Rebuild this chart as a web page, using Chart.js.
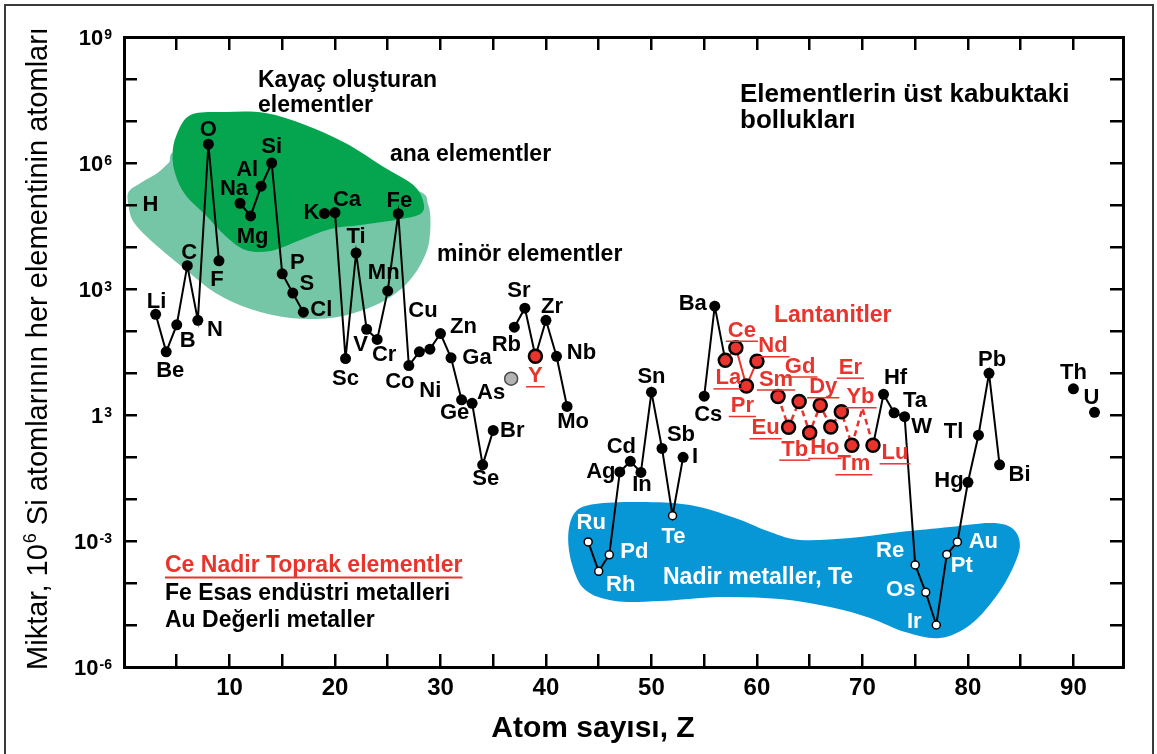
<!DOCTYPE html>
<html lang="tr">
<head>
<meta charset="utf-8">
<title>Elementlerin üst kabuktaki bollukları</title>
<script src="https://cdn.jsdelivr.net/npm/chart.js@4.4.1/dist/chart.umd.min.js"></script>
<style>
html,body{margin:0;padding:0;background:#fff;overflow:hidden;}
canvas{display:block;}
</style>
</head>
<body>
<canvas id="chart" width="1157" height="754"></canvas>
<script>
// ---------------- data ----------------
const atomicNumber = [3,4,5,6,7,8,9,10,11,12,13,14,15,16,17,18,19,20,21,22,23,24,25,26,27,28,29,30,31,32,33,34,35,36,37,38,39,40,41,42,43,44,45,46,47,48,49,50,51,52,53,54,55,56,57,58,59,60,61,62,63,64,65,66,67,68,69,70,71,72,73,74,75,76,77,78,79,80,81,82,83,84,90,91,92];
const elementSymbol = ['Li','Be','B','C','N','O','F','Ne','Na','Mg','Al','Si','P','S','Cl','Ar','K','Ca','Sc','Ti','V','Cr','Mn','Fe','Co','Ni','Cu','Zn','Ga','Ge','As','Se','Br','Kr','Rb','Sr','Y','Zr','Nb','Mo','Tc','Ru','Rh','Pd','Ag','Cd','In','Sn','Sb','Te','I','Xe','Cs','Ba','La','Ce','Pr','Nd','Pm','Sm','Eu','Gd','Tb','Dy','Ho','Er','Tm','Yb','Lu','Hf','Ta','W','Re','Os','Ir','Pt','Au','Hg','Tl','Pb','Bi','Po','Th','Pa','U'];
const abundance = [250,32,140,3600,180,2.8e6,4700,null,1.1e5,5.5e4,2.8e5,1.0e6,2300,800,280,null,6.3e4,6.6e4,22,7200,110,63,900,6.2e4,15,32,37,87,23,2.3,1.9,0.065,0.43,null,123,350,25,180,25,1.6,null,9.5e-4,1.9e-4,4.7e-4,0.044,0.079,0.043,3.5,0.16,4.0e-3,0.098,null,2.8,390,20,40,4.9,19,null,2.75,0.51,2.1,0.38,1.7,0.52,1.2,0.19,1.45,0.19,3.1,1.13,0.91,2.7e-4,6.0e-5,1.0e-5,4.8e-4,9.5e-4,0.025,0.33,9.8,0.065,null,4.2,null,1.16];
const rareEarthSymbols = ['Y','La','Ce','Pr','Nd','Sm','Eu','Gd','Tb','Dy','Ho','Er','Tm','Yb','Lu'];
const preciousSymbols = ['Ru','Rh','Pd','Te','Re','Os','Ir','Pt','Au'];
const unmarkedSymbols = ['Yb'];
const grayPointZ = [36.7];
const grayPointAbundance = [7.3];
const xTickValues = [5,10,15,20,25,30,35,40,45,50,55,60,65,70,75,80,85,90];
const xTickLabels = ['','10','','20','','30','','40','','50','','60','','70','','80','','90'];
const yTickValues = [1e9,1e6,1e3,1,1e-3,1e-6];
const yTickBase = ['10','10','10','1','10','10'];
const yTickExp = ['9','6','3','3','-3','-6'];
const yMinorTicks = [1e-6,1e-5,1e-4,1e-3,1e-2,1e-1,1,1e1,1e2,1e3,1e4,1e5,1e6,1e7,1e8,1e9];

// ---------------- layout / style (not data) ----------------
const FONT = '"Liberation Sans", Arial, Helvetica, sans-serif';
const RED = '#e8342c';
const labelOffset = {
  Li:[1,-12],Be:[4,19],B:[11,16],C:[2,-13],N:[17,10],O:[0,-14],F:[-2,19],Na:[-6,-14],Mg:[2,21],Al:[-14,-16],Si:[0,-16],
  P:[15,-11],S:[14,-9],Cl:[18,-2],K:[-13,0],Ca:[12,-13],Sc:[0,20],Ti:[0,-16],V:[-6,16],Cr:[7,16],Mn:[-4,-18],Fe:[1,-13],
  Co:[-9,16],Ni:[11,39],Cu:[-7,-38],Zn:[23,-7],Ga:[26,0],Ge:[-7,13],As:[19,-10],Se:[3,14],Br:[19,1],Rb:[-8,18],Sr:[-6,-17],
  Y:[0,20],Zr:[6,-13],Nb:[25,-3],Mo:[6,16],Ru:[3,-19],Rh:[22,14],Pd:[25,-3],Ag:[-19,0],Cd:[-9,-14],In:[1,13],Sn:[0,-15],
  Sb:[19,-13],Te:[1,21],I:[12,0],Cs:[4,19],Ba:[-22,-2],La:[3,18],Ce:[6,-17],Pr:[-4,20],Nd:[16,-15],Sm:[-2,-17],Eu:[-23,1],
  Gd:[1,-35],Tb:[-15,17],Dy:[3,-18],Ho:[-6,21],Er:[9,-44],Tm:[2,19],Yb:[-2,-11],Lu:[22,8],Hf:[12,-16],Ta:[21,-12],W:[17,10],
  Re:[-25,-14],Os:[-25,-2],Ir:[-22,-3],Pt:[15,12],Au:[26,0],Hg:[-19,-1],Tl:[-25,-3],Pb:[3,-13],Bi:[20,10],Th:[0,-16],U:[-3,-14]
};
// region outlines in data units [Z, log10(abundance)]
const majorRegion = [[4.98,6.667],[6.31,7.143],[9.62,7.214],[13.41,7.19],[17.2,6.905],[20.99,6.476],[24.78,5.881],[27.43,5.476],[28.38,5.071],[28.09,4.786],[25.72,4.643],[22.41,4.524],[19.57,4.429],[16.73,4.167],[13.89,3.905],[11.52,3.929],[9.62,4.262],[7.73,4.762],[5.83,5.238],[4.89,5.714],[4.6,6.19]];
const minorRegion = [[0.43,5.31],[1.57,5.524],[3.18,5.762],[4.22,6.0],[5.83,6.31],[16.73,6.071],[27.15,5.405],[28.85,5.0],[28.95,4.167],[28.09,3.571],[26.67,3.095],[24.78,2.738],[22.41,2.476],[19.57,2.31],[15.78,2.31],[11.99,2.524],[8.68,2.905],[5.65,3.5],[2.71,4.119],[0.91,4.595],[0.43,5.0]];
const rareMetalRegion = [[42.11,-2.857],[42.78,-2.31],[44.67,-2.119],[48.93,-2.071],[53.66,-2.143],[57.93,-2.452],[61.25,-2.786],[64.09,-2.976],[68.83,-2.929],[73.56,-2.786],[78.3,-2.667],[82.1,-2.571],[84.17,-2.69],[84.93,-3.095],[84.17,-3.69],[82.56,-4.357],[80.19,-5.0],[77.35,-5.31],[74.04,-5.167],[70.72,-4.833],[66.93,-4.571],[62.2,-4.381],[56.51,-4.333],[50.83,-4.429],[46.57,-4.429],[43.73,-4.167],[42.49,-3.571]];
const notes = [
  {t:'Kayaç oluşturan', x:258, y:87, s:23, c:'#000'},
  {t:'elementler', x:258, y:112, s:23, c:'#000'},
  {t:'ana elementler', x:390, y:161, s:23, c:'#000'},
  {t:'minör elementler', x:437, y:261, s:23, c:'#000'},
  {t:'Elementlerin üst kabuktaki', x:740, y:102, s:26, c:'#000'},
  {t:'bollukları', x:740, y:128, s:26, c:'#000'},
  {t:'Lantanitler', x:774, y:322, s:23, c:RED},
  {t:'Ce Nadir Toprak elementler', x:165, y:572, s:23, c:RED, u:true},
  {t:'Fe Esas endüstri metalleri', x:165, y:600, s:23, c:'#000'},
  {t:'Au Değerli metaller', x:165, y:627, s:23, c:'#000'},
  {t:'Nadir metaller, Te', x:663, y:584, s:23, c:'#fff'}
];

function groupOf(sym){
  if (unmarkedSymbols.includes(sym)) return 'hidden';
  if (rareEarthSymbols.includes(sym)) return 'ree';
  if (preciousSymbols.includes(sym)) return 'precious';
  return 'main';
}
const groups = elementSymbol.map(groupOf);
const pointRadius = groups.map(g => g==='hidden'?0 : g==='ree'?6.5 : g==='precious'?4 : 5.5);
const pointFill = groups.map(g => g==='ree'?RED : g==='precious'?'#fff' : '#000');
const pointBorder = groups.map(g => g==='hidden'?'rgba(0,0,0,0)':'#000');
const pointBorderW = groups.map(g => g==='ree'?2.5 : g==='precious'?1.5 : 0);

function segKind(c){
  const z0 = atomicNumber[c.p0DataIndex], z1 = atomicNumber[c.p1DataIndex];
  if (z0>=57 && z1<=60) return 'solidRed';
  if (z0>=62 && z1<=71) return 'dashRed';
  return 'black';
}

function smoothClosed(ctx, pts){
  const n = pts.length;
  ctx.beginPath();
  ctx.moveTo(pts[0][0], pts[0][1]);
  for (let i=0;i<n;i++){
    const p0=pts[(i-1+n)%n], p1=pts[i], p2=pts[(i+1)%n], p3=pts[(i+2)%n];
    ctx.bezierCurveTo(p1[0]+(p2[0]-p0[0])/6, p1[1]+(p2[1]-p0[1])/6,
                      p2[0]-(p3[0]-p1[0])/6, p2[1]-(p3[1]-p1[1])/6, p2[0], p2[1]);
  }
  ctx.closePath();
}
function regionPixels(chart, region){
  const xs = chart.scales.x, ys = chart.scales.y;
  return region.map(p => [xs.getPixelForValue(p[0]), ys.getPixelForValue(Math.pow(10,p[1]))]);
}

const decor = {
  id:'decor',
  beforeDraw(chart){
    const ctx = chart.ctx;
    ctx.save();
    ctx.fillStyle = '#fff';
    ctx.fillRect(0,0,chart.width,chart.height);
    ctx.fillStyle = '#74c6a7';
    smoothClosed(ctx, regionPixels(chart, minorRegion)); ctx.fill();
    ctx.fillStyle = '#05a550';
    smoothClosed(ctx, regionPixels(chart, majorRegion)); ctx.fill();
    ctx.fillStyle = '#0897d6';
    smoothClosed(ctx, regionPixels(chart, rareMetalRegion)); ctx.fill();
    ctx.textAlign='left'; ctx.textBaseline='alphabetic';
    notes.forEach(n => {
      ctx.font = 'bold '+n.s+'px '+FONT;
      ctx.fillStyle = n.c;
      ctx.fillText(n.t, n.x, n.y);
      if (n.u){
        const w = ctx.measureText(n.t).width;
        ctx.strokeStyle = n.c; ctx.lineWidth = 1.8;
        ctx.beginPath(); ctx.moveTo(n.x, n.y+5.5); ctx.lineTo(n.x+w, n.y+5.5); ctx.stroke();
      }
    });
    ctx.restore();
  },
  afterDatasetsDraw(chart){
    const ctx = chart.ctx;
    const meta = chart.getDatasetMeta(0);
    ctx.save();
    ctx.font = 'bold 22px '+FONT;
    ctx.textAlign='center'; ctx.textBaseline='middle';
    elementSymbol.forEach((sym,i) => {
      if (abundance[i]===null || !labelOffset[sym]) return;
      const el = meta.data[i];
      const cx = el.x + labelOffset[sym][0], cy = el.y + labelOffset[sym][1];
      const g = groups[i];
      ctx.fillStyle = (g==='ree'||g==='hidden') ? RED : g==='precious' ? '#fff' : '#000';
      ctx.fillText(sym, cx, cy);
      if (g==='ree'||g==='hidden'){
        const w = ctx.measureText(sym).width;
        ctx.strokeStyle = RED; ctx.lineWidth = 1.5;
        ctx.beginPath(); ctx.moveTo(cx-w/2-2, cy+10.5); ctx.lineTo(cx+w/2+2, cy+10.5); ctx.stroke();
      }
    });
    // hydrogen label (no data point shown)
    ctx.fillStyle = '#000';
    ctx.fillText('H', chart.scales.x.getPixelForValue(2.5), chart.scales.y.getPixelForValue(1e5));
    ctx.restore();
  },
  afterDraw(chart){
    const ctx = chart.ctx, ys = chart.scales.y, ca = chart.chartArea;
    ctx.save();
    // y tick labels with superscripts
    ctx.fillStyle = '#000';
    ctx.textBaseline = 'alphabetic';
    yTickValues.forEach((v,i) => {
      const py = ys.getPixelForValue(v);
      ctx.font = 'bold 14px '+FONT;
      const we = ctx.measureText(yTickExp[i]).width;
      ctx.textAlign='right';
      ctx.fillText(yTickExp[i], 112, py+2);
      ctx.font = 'bold 22px '+FONT;
      ctx.fillText(yTickBase[i], 112-we-1, py+8);
    });
    // y axis title (rotated) with superscript
    const p1 = 'Miktar, 10', p2 = '6', p3 = ' Si atomlarının her elementinin atomları';
    ctx.font = '29px '+FONT; const w1 = ctx.measureText(p1).width, w3 = ctx.measureText(p3).width;
    ctx.font = '18px '+FONT; const w2 = ctx.measureText(p2).width;
    const tot = w1+w2+w3;
    ctx.translate(47, (ca.top+ca.bottom)/2 - 3);
    ctx.rotate(-Math.PI/2);
    ctx.textAlign='left';
    let x0 = -tot/2;
    ctx.font = '29px '+FONT; ctx.fillText(p1, x0, 0);
    ctx.font = '18px '+FONT; ctx.fillText(p2, x0+w1+1, -11);
    ctx.font = '29px '+FONT; ctx.fillText(p3, x0+w1+w2+1, 0);
    ctx.setTransform(1,0,0,1,0,0);
    // x axis title
    ctx.font = 'bold 30px '+FONT; ctx.textAlign='center';
    ctx.fillText('Atom sayısı, Z', 593, 737);
    // outer frame
    ctx.strokeStyle = '#3a3a3a'; ctx.lineWidth = 2;
    ctx.strokeRect(5,5,1148,760);
    ctx.restore();
  }
};

const gridOpts = {display:true, drawOnChartArea:false, drawTicks:true, tickLength:-13, color:'#000', lineWidth:2.5};
const borderOpts = {display:true, color:'#000', width:3};

new Chart(document.getElementById('chart'), {
  type:'line',
  data:{
    datasets:[
      {
        label:'Üst kabuk bolluğu',
        data: atomicNumber.map((z,i)=>({x:z, y:abundance[i]})),
        spanGaps:false,
        borderColor:'#000', borderWidth:2,
        pointRadius: pointRadius, pointHoverRadius: pointRadius,
        pointBackgroundColor: pointFill, pointBorderColor: pointBorder, pointBorderWidth: pointBorderW,
        segment:{
          borderColor: c => segKind(c)==='black' ? '#000' : RED,
          borderDash: c => segKind(c)==='dashRed' ? [6,4] : undefined,
          borderWidth: c => segKind(c)==='dashRed' ? 2.5 : 2
        },
        tension:0
      },
      {
        label:'Kr',
        data: grayPointZ.map((z,i)=>({x:z, y:grayPointAbundance[i]})),
        showLine:false,
        pointRadius:6.5, pointBackgroundColor:'#b3b3b3', pointBorderColor:'#4a4a4a', pointBorderWidth:1.5
      }
    ]
  },
  options:{
    responsive:false, animation:false, devicePixelRatio:1, events:[],
    layout:{padding:0},
    plugins:{legend:{display:false}, tooltip:{enabled:false}},
    scales:{
      x:{type:'linear', position:'bottom', min:0, max:94.7,
         afterBuildTicks:s=>{ s.ticks = xTickValues.map(v=>({value:v})); },
         afterFit:s=>{ s.height = 87; },
         ticks:{autoSkip:false, maxRotation:0, padding:20, color:'#000',
                font:{family:FONT, size:24, weight:'bold'},
                callback:(v)=>{ const i = xTickValues.indexOf(v); return i>=0 ? xTickLabels[i] : ''; }},
         grid:gridOpts, border:borderOpts},
      x2:{type:'linear', position:'top', min:0, max:94.7,
         afterBuildTicks:s=>{ s.ticks = xTickValues.map(v=>({value:v})); },
         afterFit:s=>{ s.height = 37; },
         ticks:{display:false}, grid:gridOpts, border:borderOpts},
      y:{type:'logarithmic', position:'left', min:1e-6, max:1e9,
         afterBuildTicks:s=>{ s.ticks = yMinorTicks.map(v=>({value:v})); },
         afterFit:s=>{ s.width = 124; },
         ticks:{display:false}, grid:gridOpts, border:borderOpts},
      y2:{type:'logarithmic', position:'right', min:1e-6, max:1e9,
         afterBuildTicks:s=>{ s.ticks = yMinorTicks.map(v=>({value:v})); },
         afterFit:s=>{ s.width = 34; },
         ticks:{display:false}, grid:gridOpts, border:borderOpts}
    }
  },
  plugins:[decor]
});
</script>
</body>
</html>
